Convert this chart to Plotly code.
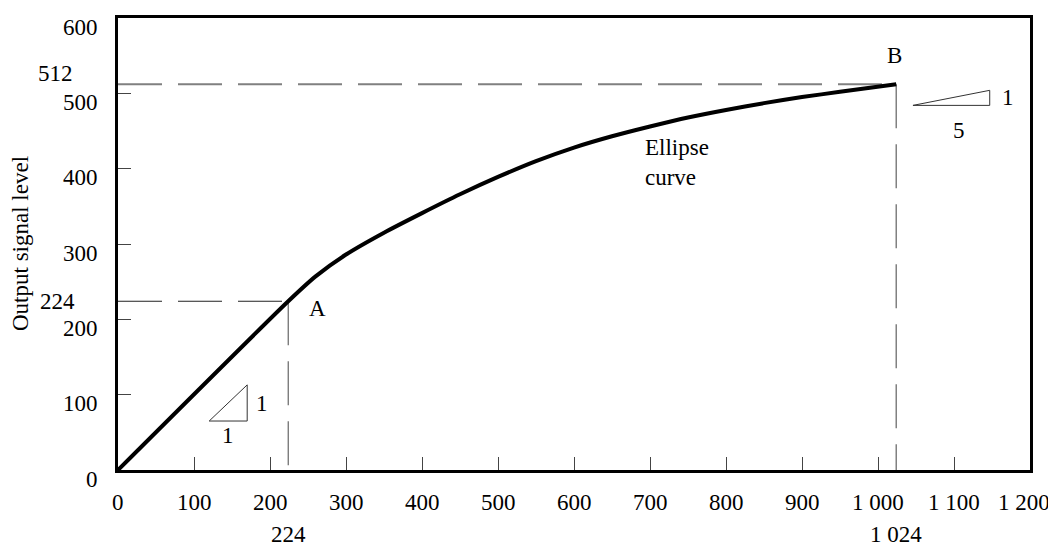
import plotly.graph_objects as go

# ---- data ----
curve_x = [0, 224, 260, 300, 350, 400, 450, 500, 550, 600, 650, 700, 750, 800, 850, 900, 950, 1024]
curve_y = [0, 224, 257, 286, 315, 341, 366, 389, 410, 428, 443, 456, 468, 478, 487, 495, 502, 512]

point_a = [224, 224]
point_b = [1024, 512]

x_ticks = [100, 200, 300, 400, 500, 600, 700, 800, 900, 1000, 1100]
y_ticks = [100, 200, 300, 400, 500]
x_tick_labels = ["0", "100", "200", "300", "400", "500", "600", "700", "800", "900", "1 000", "1 100", "1 200"]
x_tick_label_vals = [0, 100, 200, 300, 400, 500, 600, 700, 800, 900, 1000, 1100, 1200]
y_tick_labels = ["0", "100", "200", "300", "400", "500", "600"]
y_tick_label_vals = [0, 100, 200, 300, 400, 500, 600]

tri1_x = [120, 170, 170, 120]
tri1_y = [65, 65, 113, 65]
tri2_x = [1046, 1147, 1147, 1046]
tri2_y = [484, 484, 504, 484]

FONT = "Liberation Serif"
FS = 23
DASH = "44px,16px"

fig = go.Figure()

# guide dashed lines
fig.add_trace(go.Scatter(x=[0, point_b[0]], y=[point_b[1], point_b[1]], mode="lines",
                         line=dict(color="#808080", width=2, dash=DASH), hoverinfo="skip"))
fig.add_trace(go.Scatter(x=[point_b[0], point_b[0]], y=[point_b[1], 0], mode="lines",
                         line=dict(color="#808080", width=1.5, dash=DASH), hoverinfo="skip"))
fig.add_trace(go.Scatter(x=[0, point_a[0]], y=[point_a[1], point_a[1]], mode="lines",
                         line=dict(color="#222222", width=1.2, dash=DASH), hoverinfo="skip"))
fig.add_trace(go.Scatter(x=[point_a[0], point_a[0]], y=[point_a[1], 0], mode="lines",
                         line=dict(color="#666666", width=1.2, dash=DASH), hoverinfo="skip"))

# slope triangles
fig.add_trace(go.Scatter(x=tri1_x, y=tri1_y, mode="lines",
                         line=dict(color="#333333", width=1), hoverinfo="skip"))
fig.add_trace(go.Scatter(x=tri2_x, y=tri2_y, mode="lines",
                         line=dict(color="#333333", width=1), hoverinfo="skip"))

# main curve
fig.add_trace(go.Scatter(x=curve_x, y=curve_y, mode="lines",
                         line=dict(color="black", width=4, shape="spline", smoothing=0.6),
                         hoverinfo="skip"))

ann = []
txt = dict(family=FONT, size=FS, color="black")
# y tick labels
for v, t in zip(y_tick_label_vals, y_tick_labels):
    ann.append(dict(x=0, y=v, xref="x", yref="y", text=t, showarrow=False, font=txt,
                    xanchor="right", yanchor="middle", xshift=-18, yshift=-9))
ann.append(dict(x=0, y=512, xref="x", yref="y", text="512", showarrow=False, font=txt,
                xanchor="right", yanchor="middle", xshift=-43, yshift=11))
ann.append(dict(x=0, y=224, xref="x", yref="y", text="224", showarrow=False, font=txt,
                xanchor="right", yanchor="middle", xshift=-41, yshift=0))
# x tick labels
for v, t in zip(x_tick_label_vals, x_tick_labels):
    ann.append(dict(x=v, y=0, xref="x", yref="y", text=t, showarrow=False, font=txt,
                    xanchor="center", yanchor="middle", yshift=-32,
                    xshift=(-6 if v == 1200 else 0)))
ann.append(dict(x=224, y=0, xref="x", yref="y", text="224", showarrow=False, font=txt,
                xanchor="center", yanchor="middle", yshift=-64))
ann.append(dict(x=1024, y=0, xref="x", yref="y", text="1 024", showarrow=False, font=txt,
                xanchor="center", yanchor="middle", yshift=-64))
# point labels
ann.append(dict(x=263, y=214, xref="x", yref="y", text="A", showarrow=False, font=txt))
ann.append(dict(x=1022, y=550, xref="x", yref="y", text="B", showarrow=False, font=txt))
ann.append(dict(x=691, y=408, xref="x", yref="y", text="Ellipse<br>curve", showarrow=False,
                font=txt, xanchor="left", yanchor="middle", align="left"))
# triangle labels
ann.append(dict(x=189, y=88, xref="x", yref="y", text="1", showarrow=False, font=txt))
ann.append(dict(x=145, y=46, xref="x", yref="y", text="1", showarrow=False, font=txt))
ann.append(dict(x=1171, y=495, xref="x", yref="y", text="1", showarrow=False, font=txt))
ann.append(dict(x=1107, y=451, xref="x", yref="y", text="5", showarrow=False, font=txt))
# y axis title
ann.append(dict(x=0, y=0.5, xref="paper", yref="paper", text="Output signal level",
                showarrow=False, font=txt, textangle=-90, xanchor="center", yanchor="middle",
                xshift=-98))

fig.update_layout(
    width=1048, height=538,
    margin=dict(l=110, r=26, t=7, b=76),
    paper_bgcolor="white", plot_bgcolor="white",
    showlegend=False,
    annotations=ann,
    xaxis=dict(range=[0, 1200], showgrid=False, zeroline=False, showline=True, mirror=True,
               linecolor="black", linewidth=3, ticks="inside", ticklen=13, tickwidth=1,
               tickcolor="#444444", tickvals=x_ticks, showticklabels=False, fixedrange=True),
    yaxis=dict(range=[0, 600], showgrid=False, zeroline=False, showline=True, mirror=True,
               linecolor="black", linewidth=3, ticks="inside", ticklen=13, tickwidth=1,
               tickcolor="#444444", tickvals=y_ticks, showticklabels=False, fixedrange=True),
)

fig.write_html("out.html")
